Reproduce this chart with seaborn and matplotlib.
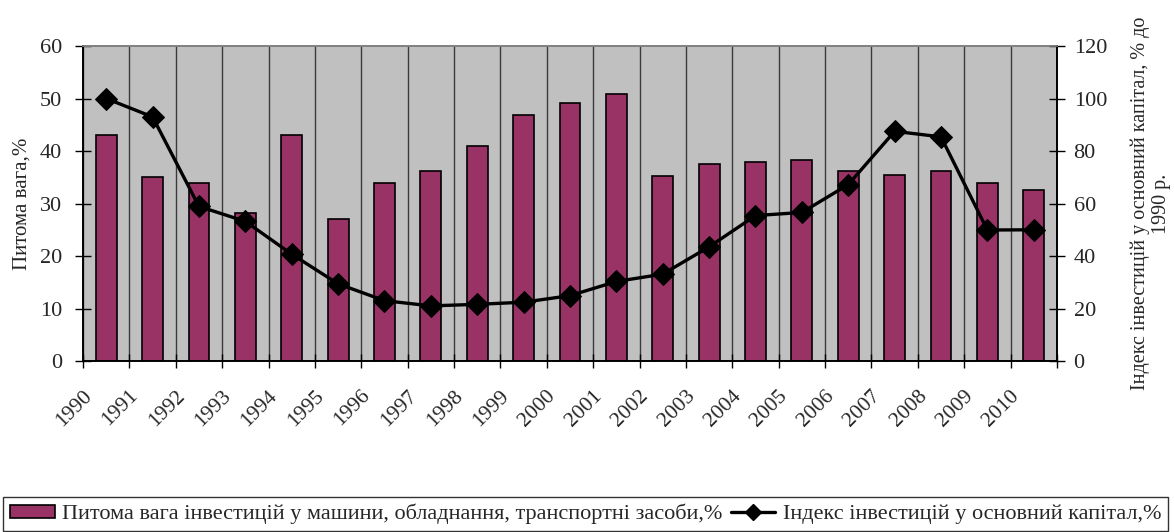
import numpy as np
import pandas as pd
import seaborn as sns
import matplotlib.pyplot as plt
from matplotlib.patches import Patch
from matplotlib.lines import Line2D
from matplotlib.transforms import ScaledTranslation

# values
years = [str(y) for y in range(1990, 2011)]
share = [43.1, 35.1, 34.0, 28.1, 43.1, 27.0, 34.0, 36.1, 41.0, 46.9, 49.1,
         50.9, 35.2, 37.6, 37.9, 38.2, 36.1, 35.4, 36.1, 34.0, 32.6]
index = [100, 93.0, 58.9, 53.2, 40.7, 29.4, 23.0, 21.0, 21.6, 22.4, 24.9,
         30.3, 33.1, 43.5, 55.4, 56.6, 67.2, 87.5, 85.4, 49.9, 50.0]

bar_label = "Питома вага інвестицій у машини, обладнання, транспортні засоби,%"
line_label = "Індекс інвестицій у основний капітал,%"

df = pd.DataFrame({"year": years, "share": share, "index": index})

sns.set_theme(style="white")
plt.rcParams['font.family'] = ['Liberation Serif', 'DejaVu Serif']
plt.rcParams['font.size'] = 15

fig = plt.figure(figsize=(11.74, 5.32), dpi=100)
ax = fig.add_axes([0.0707, 0.3214, 0.8296, 0.5921])
ax.set_facecolor('#C0C0C0')

sns.barplot(data=df, x="year", y="share", color='#993366', saturation=1,
            edgecolor='black', linewidth=1.2, width=0.45, ax=ax)

ax2 = ax.twinx()
sns.lineplot(x=np.arange(len(years)), y=df["index"], color='black',
             linewidth=2.4, marker='D', markersize=11.5, markeredgecolor='black',
             ax=ax2)

ax.set_xlim(-0.5, len(years) - 0.5)
ax.set_ylim(0, 60)
ax.set_yticks(range(0, 61, 10))
ax2.set_ylim(0, 120)
ax2.set_yticks(range(0, 121, 20))

# category boundaries: gridlines + cross ticks
ax.set_xticks(np.arange(-0.5, len(years)), minor=True)
ax.grid(True, which='minor', axis='x', color='#3a3a3a', linewidth=1)
ax.grid(False, which='major')
ax2.grid(False)
ax.set_axisbelow(True)
ax.tick_params(axis='x', which='major', length=0, pad=0)
ax.tick_params(axis='x', which='minor', direction='inout', length=10,
               width=1, color='black', bottom=True)
ax.tick_params(axis='y', direction='inout', length=11, width=1,
               color='black', left=True, labelsize=16, pad=9.5)
ax2.tick_params(axis='y', direction='inout', length=11, width=1,
                color='black', right=True, labelsize=16, pad=6.5)

ax.set_xticks(np.arange(len(years)))
ax.set_xticklabels(years, rotation=45, ha='right', va='center',
                   rotation_mode='anchor', fontsize=15.5)
shift = ScaledTranslation(-0.17, -0.32, fig.dpi_scale_trans)
for lbl in ax.get_xticklabels():
    lbl.set_transform(lbl.get_transform() + shift)

ax.set_xlabel('')
ax.set_ylabel('Питома вага,%', fontsize=15, labelpad=6)
ax2.set_ylabel('Індекс інвестицій у основний капітал, % до\n1990 р.',
               fontsize=14.5, labelpad=17, linespacing=1.15)

for a in (ax, ax2):
    for s in ('left', 'right', 'bottom'):
        a.spines[s].set_color('black')
        a.spines[s].set_linewidth(1.2)
    a.spines['top'].set_color('#808080')
    a.spines['top'].set_linewidth(1.2)

handles = [Patch(facecolor='#993366', edgecolor='black', linewidth=1.2),
           Line2D([], [], color='black', linewidth=2.4, marker='D',
                  markersize=8)]
leg = fig.legend(handles, [bar_label, line_label], ncol=2,
                 loc='lower left', bbox_to_anchor=(0.002, 0.0),
                 fontsize=16, frameon=True, fancybox=False, shadow=False,
                 handlelength=2.0, handleheight=0.5, handletextpad=0.35,
                 columnspacing=0.35, borderpad=0.3, borderaxespad=0.05)
leg.get_frame().set_edgecolor('black')
leg.get_frame().set_linewidth(1)

plt.savefig('out.png', dpi=100)
